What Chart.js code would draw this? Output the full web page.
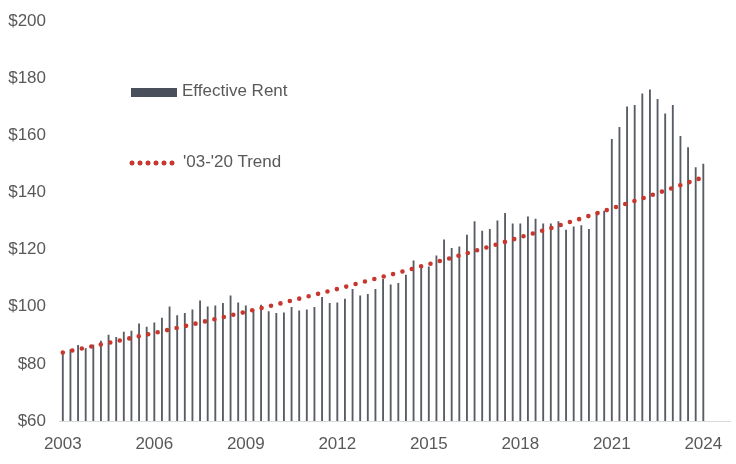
<!DOCTYPE html>
<html>
<head>
<meta charset="utf-8">
<script src="https://cdn.jsdelivr.net/npm/chart.js@4.4.1/dist/chart.umd.min.js"></script>
<style>
  html, body { margin: 0; padding: 0; background: #fff; }
  #wrap { position: relative; width: 736px; height: 464px; }
  .leg { position: absolute; font: 17px "Liberation Sans", Arial, sans-serif; color: #595959; line-height: 20px; }
  .sw { position: absolute; }
</style>
</head>
<body>
<div id="wrap">
  <canvas id="myChart" width="736" height="464"></canvas>
  <div class="sw" style="left:131px; top:88px; width:46px; height:9px; background:#4a4f5c;"></div>
  <div class="leg" style="left:182px; top:81px;">Effective Rent</div>
  <div class="sw" style="left:128px; top:160px; width:48px; height:6px; background: radial-gradient(circle, #c8372d 2.2px, rgba(200,55,45,0) 2.8px) repeat-x; background-size: 8px 6px;"></div>
  <div class="leg" style="left:183px; top:152px;">'03-'20 Trend</div>
</div>
<script>
// Years shown on the axis, one category per quarter (2003 Q1 - 2024 Q4)
var years = ['2003', '2004', '2005', '2006', '2007', '2008', '2009', '2010', '2011', '2012', '2013',
             '2014', '2015', '2016', '2017', '2018', '2019', '2020', '2021', '2022', '2023', '2024'];
var quarters = ['Q1', 'Q2', 'Q3', 'Q4'];
var tickYears = ['2003', '2006', '2009', '2012', '2015', '2018', '2021', '2024'];

var labels = [];
years.forEach(function (y) {
  quarters.forEach(function (q) { labels.push(y + ' ' + q); });
});

// Effective rent, quarterly
var effectiveRent = [
  84.3, 85.0, 86.5, 85.4, 86.6, 88.0, 90.1, 89.3, 91.1, 91.5, 94.0, 92.9,
  94.4, 96.0, 100.0, 96.9, 97.7, 98.9, 102.1, 100.0, 100.3, 101.2, 103.8, 101.4,
  100.3, 99.1, 100.6, 98.3, 97.7, 97.9, 99.8, 98.6, 98.9, 99.8, 103.3, 101.2,
  101.4, 102.7, 106.1, 103.8, 104.3, 106.1, 109.6, 107.7, 108.2, 111.1, 116.1, 113.4,
  114.0, 117.8, 123.4, 120.4, 121.0, 125.1, 129.8, 126.5, 127.1, 130.1, 132.7, 129.0,
  129.0, 131.5, 130.7, 129.0, 129.0, 129.8, 126.8, 128.0, 128.4, 127.1, 133.0, 133.5,
  158.6, 162.8, 170.0, 170.5, 174.5, 175.9, 172.6, 167.5, 170.5, 159.6, 155.7, 148.7,
  149.9, null, null, null
];

// '03-'20 trend, read at each Q1
var trendQ1 = [84.0, 86.2, 88.5, 90.8, 93.2, 95.7, 98.2, 100.8, 103.5, 106.2, 109.1,
               111.9, 114.9, 117.9, 121.1, 124.3, 127.5, 130.9, 134.4, 137.9, 141.6, 145.3];

var trend = labels.map(function (l, i) {
  return i % 4 === 0 ? trendQ1[i / 4] : null;
});

var data = {
  labels: labels,
  datasets: [
    {
      type: 'line',
      label: "'03-'20 Trend",
      data: trend,
      spanGaps: true,
      borderColor: '#c8372d',
      borderWidth: 4.6,
      borderDash: [0, 9.7],
      borderCapStyle: 'round',
      pointRadius: 0,
      tension: 0,
      order: 0
    },
    {
      type: 'bar',
      label: 'Effective Rent',
      data: effectiveRent,
      backgroundColor: '#585d65',
      barThickness: 1.2,
      order: 1
    }
  ]
};

var tickFont = { family: '"Liberation Sans", Arial, sans-serif', size: 17 };

var config = {
  data: data,
  options: {
    responsive: false,
    animation: false,
    layout: { padding: { top: 21, right: 6, bottom: 0, left: 0 } },
    plugins: {
      legend: { display: false },
      tooltip: { enabled: false }
    },
    scales: {
      x: {
        offset: true,
        grid: { display: false },
        border: { display: true, color: '#d9d9d9', width: 1 },
        ticks: {
          autoSkip: false,
          maxRotation: 0,
          padding: 5,
          color: '#595959',
          font: tickFont,
          callback: function (v, i) {
            var y = labels[i].slice(0, 4);
            return (i % 4 === 0 && tickYears.indexOf(y) >= 0) ? y : '';
          }
        },
        afterFit: function (s) { s.height = 43; }
      },
      y: {
        min: 60,
        max: 200,
        grid: { display: false },
        border: { display: false },
        ticks: {
          stepSize: 20,
          padding: 5,
          color: '#595959',
          font: tickFont,
          callback: function (v) { return '$' + v; }
        },
        afterFit: function (s) { s.width = 59; }
      }
    }
  }
};

var myChart = new Chart(document.getElementById('myChart').getContext('2d'), config);
</script>
</body>
</html>
